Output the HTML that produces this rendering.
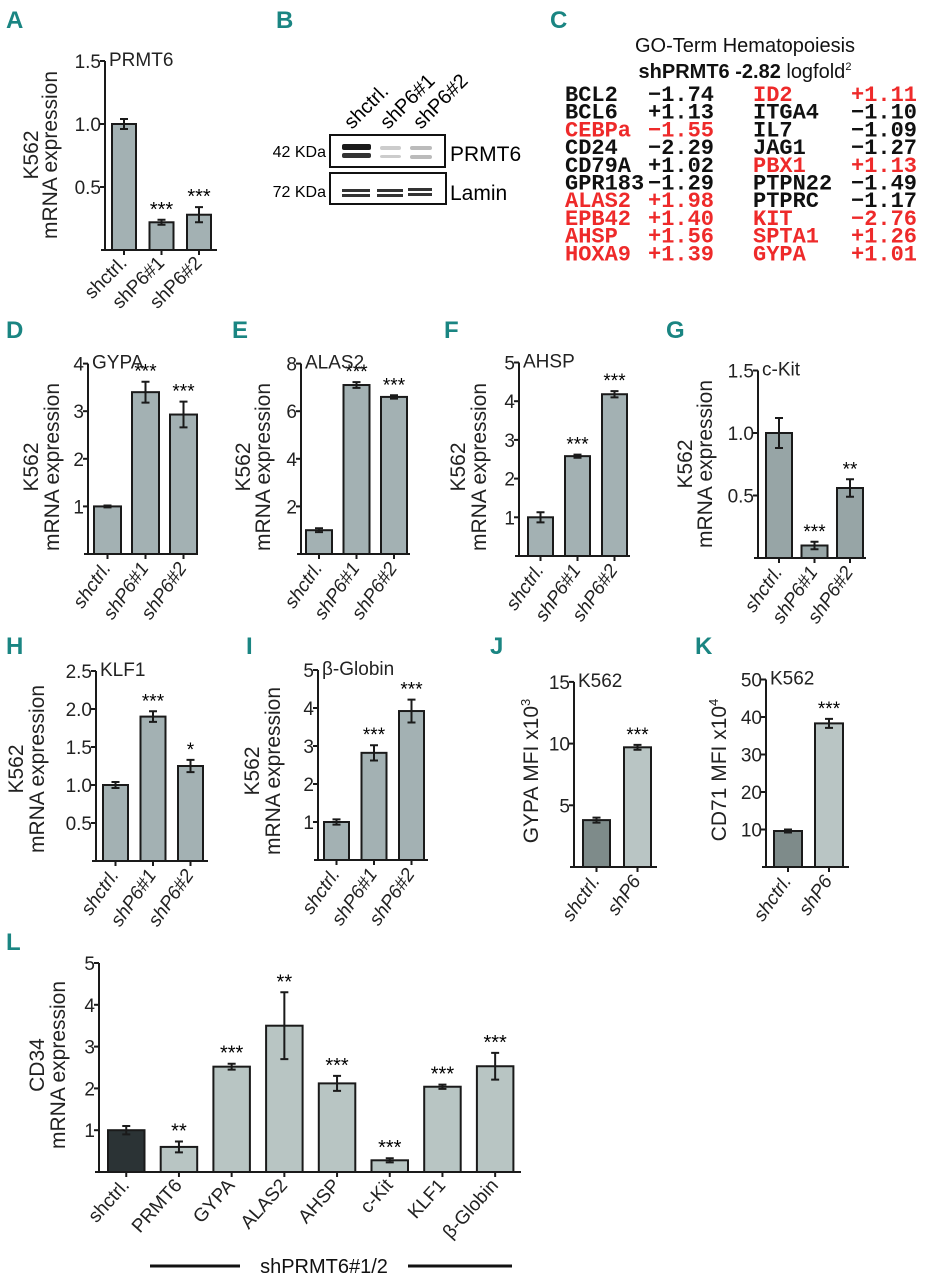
<!DOCTYPE html>
<html><head><meta charset="utf-8"><style>
html,body{margin:0;padding:0;background:#fff}
svg{display:block}
.pl{font-family:"Liberation Sans Narrow","Liberation Sans",sans-serif;font-weight:bold;fill:#1a8582;font-size:24px}
.tk{font-family:"Liberation Sans Narrow","Liberation Sans",sans-serif;font-size:19px;fill:#222}
.yl{font-family:"Liberation Sans",sans-serif;font-size:21px;fill:#222}
.gt{font-family:"Liberation Mono",monospace;font-weight:bold;font-size:22px}
</style></head><body>
<svg id="fig" width="931" height="1280" viewBox="0 0 931 1280" xmlns="http://www.w3.org/2000/svg">
<g>
<text class="pl" x="6" y="28">A</text><text class="pl" x="276" y="28">B</text><text class="pl" x="550" y="28">C</text>
<text class="pl" x="6" y="338">D</text><text class="pl" x="232" y="338">E</text><text class="pl" x="444" y="338">F</text><text class="pl" x="666" y="338">G</text>
<text class="pl" x="6" y="654">H</text><text class="pl" x="246" y="654">I</text><text class="pl" x="490" y="654">J</text><text class="pl" x="695" y="654">K</text>
<text class="pl" x="6" y="950">L</text>
</g>
<g font-family="Liberation Sans, sans-serif">
<text x="352" y="130" font-size="20" transform="rotate(-45 352 130)">shctrl.</text>
<text x="388" y="130" font-size="20" transform="rotate(-45 388 130)">shP6#1</text>
<text x="421" y="130" font-size="20" transform="rotate(-45 421 130)">shP6#2</text>
<rect x="330" y="135" width="115" height="32" fill="#fff" stroke="#111" stroke-width="2"/>
<rect x="330" y="173" width="116" height="31" fill="#fff" stroke="#111" stroke-width="2"/>
<rect x="342" y="144" width="29" height="6" fill="#1a1a1a" rx="2"/>
<rect x="342" y="153" width="29" height="5" fill="#333" rx="2"/>
<rect x="380" y="146" width="21" height="4" fill="#ccc" rx="2"/><rect x="380" y="155" width="21" height="3" fill="#ccc" rx="2"/>
<rect x="410" y="146" width="22" height="4" fill="#bbb" rx="2"/><rect x="410" y="155" width="22" height="4" fill="#bbb" rx="2"/>
<rect x="342" y="189" width="28" height="3" fill="#333"/><rect x="342" y="194" width="28" height="3" fill="#333"/>
<rect x="377" y="189" width="26" height="3" fill="#333"/><rect x="377" y="194" width="26" height="3" fill="#333"/>
<rect x="408" y="188" width="24" height="3" fill="#333"/><rect x="408" y="193" width="24" height="3" fill="#333"/>
<text x="326" y="157" font-size="16" text-anchor="end">42 KDa</text>
<text x="326" y="197" font-size="16" text-anchor="end">72 KDa</text>
<text x="450" y="161" font-size="21">PRMT6</text>
<text x="450" y="200" font-size="21">Lamin</text>
</g>
<g id="goterm">
<text x="745" y="52" text-anchor="middle" font-family="Liberation Sans, sans-serif" font-size="20" fill="#111">GO-Term Hematopoiesis</text>
<text x="745" y="78" text-anchor="middle" font-family="Liberation Sans, sans-serif" font-size="20" fill="#111"><tspan font-weight="bold">shPRMT6 -2.82</tspan> logfold<tspan font-size="11" dy="-8">2</tspan></text>
</g>
</svg>
<script>
const NS="http://www.w3.org/2000/svg";
const fig=document.getElementById('fig');
function mk(tag,attrs,parent,txt){const e=document.createElementNS(NS,tag);for(const k in attrs)e.setAttribute(k,attrs[k]);if(txt!==undefined)e.textContent=txt;(parent||fig).appendChild(e);return e;}

const goNames1=["BCL2","BCL6","CEBPa","CD24","CD79A","GPR183","ALAS2","EPB42","AHSP","HOXA9"];
const goVals1=["\u22121.74","+1.13","\u22121.55","\u22122.29","+1.02","\u22121.29","+1.98","+1.40","+1.56","+1.39"];
const goRed1=[0,0,1,0,0,0,1,1,1,1];
const goNames2=["ID2","ITGA4","IL7","JAG1","PBX1","PTPN22","PTPRC","KIT","SPTA1","GYPA"];
const goVals2=["+1.11","\u22121.10","\u22121.09","\u22121.27","+1.13","\u22121.49","\u22121.17","\u22122.76","+1.26","+1.01"];
const goRed2=[1,0,0,0,1,0,0,1,1,1];
const gt=document.getElementById('goterm');
for(let i=0;i<10;i++){
  const y=101+i*17.7;
  let t=mk('text',{class:'gt',x:565,y:y,fill:goRed1[i]?'#ee2a2a':'#111'},gt,goNames1[i]);
  
  
  t=mk('text',{class:'gt',x:648,y:y,fill:goRed1[i]?'#ee2a2a':'#111'},gt,goVals1[i]);
  
  
  t=mk('text',{class:'gt',x:753,y:y,fill:goRed2[i]?'#ee2a2a':'#111'},gt,goNames2[i]);
  
  
  t=mk('text',{class:'gt',x:851,y:y,fill:goRed2[i]?'#ee2a2a':'#111'},gt,goVals2[i]);
  
  
}

const catsShort=["shctrl.","shP6#1","shP6#2"];
const catsJK=["shctrl.","shP6"];
const catsL=["shctrl.","PRMT6","GYPA","ALAS2","AHSP","c-Kit","KLF1","\u03b2-Globin"];
const valsA=[1.0,0.22,0.28], errA=[0.04,0.02,0.06], starsA=["","***","***"];
const ticksA=[0.5,1.0,1.5], tickLabA=["0.5","1.0","1.5"];
const valsD=[1.0,3.4,2.93], errD=[0.02,0.22,0.27], starsD=["","***","***"];
const ticksD=[1,2,3,4], tickLabD=["1","2","3","4"];
const valsE=[1.0,7.1,6.6], errE=[0.08,0.12,0.07], starsE=["","***","***"];
const ticksE=[2,4,6,8], tickLabE=["2","4","6","8"];
const valsF=[1.0,2.58,4.18], errF=[0.13,0.04,0.08], starsF=["","***","***"];
const ticksF=[1,2,3,4,5], tickLabF=["1","2","3","4","5"];
const valsG=[1.0,0.1,0.56], errG=[0.12,0.03,0.07], starsG=["","***","**"];
const ticksG=[0.5,1.0,1.5], tickLabG=["0.5","1.0","1.5"];
const valsH=[1.0,1.9,1.25], errH=[0.04,0.07,0.08], starsH=["","***","*"];
const ticksH=[0.5,1.0,1.5,2.0,2.5], tickLabH=["0.5","1.0","1.5","2.0","2.5"];
const valsI=[1.0,2.82,3.92], errI=[0.07,0.2,0.3], starsI=["","***","***"];
const ticksI=[1,2,3,4,5], tickLabI=["1","2","3","4","5"];
const valsJ=[3.8,9.7], errJ=[0.2,0.2], starsJ=["","***"];
const ticksJ=[5,10,15], tickLabJ=["5","10","15"];
const valsK=[9.6,38.3], errK=[0.4,1.2], starsK=["","***"];
const ticksK=[10,20,30,40,50], tickLabK=["10","20","30","40","50"];
const valsL=[1.0,0.6,2.52,3.5,2.12,0.28,2.04,2.53], errL=[0.1,0.13,0.07,0.8,0.18,0.05,0.05,0.32];
const starsL=["","**","***","**","***","***","***","***"];
const ticksL=[1,2,3,4,5], tickLabL=["1","2","3","4","5"];

function chart(c){
  const g=mk('g',{});
  
  
  const y=v=>c.y0-v*c.ppu;
  const top=y(c.ticks[c.ticks.length-1]);
  const bx=i=>c.bs+i*c.step;
  c.vals.forEach((v,i)=>{
    const r=mk('rect',{x:bx(i),y:y(v),width:c.bw,height:c.y0-y(v),fill:c.colors[Math.min(i,c.colors.length-1)],stroke:'#1a1a1a','stroke-width':2},g);
    
    
    const cx=bx(i)+c.bw/2, e=c.err[i];
    const eb=mk('path',{d:`M${cx},${y(v+e)}V${y(v-e)}M${cx-4},${y(v+e)}H${cx+4}M${cx-4},${y(v-e)}H${cx+4}`,stroke:'#1a1a1a','stroke-width':2,fill:'none'},g);
    
    
    if(c.stars[i]){
      const s=mk('text',{x:cx,y:y(v+e)+c.sy,'text-anchor':'middle','font-family':'Liberation Sans, sans-serif','font-size':c.sf},g,c.stars[i]);
      
      
    }
    const lab=mk('text',{class:'tk',x:cx+4,y:c.y0+14,'text-anchor':'end','font-size':c.xf,'font-style':c.xi?'italic':'normal',transform:`rotate(-${c.rot} ${cx+4} ${c.y0+14})`},g,c.cats[i]);
    
    
    mk('line',{x1:cx,x2:cx,y1:c.y0,y2:c.y0+5,stroke:'#1a1a1a','stroke-width':2},g);
  });
  const ax=mk('path',{d:`M${c.ax},${top}V${c.y0}M${c.ax-4},${c.y0}H${c.end}`,stroke:'#1a1a1a','stroke-width':2,fill:'none'},g);
  
  
  c.ticks.forEach((t,i)=>{
    mk('line',{x1:c.ax-5,x2:c.ax,y1:y(t),y2:y(t),stroke:'#1a1a1a','stroke-width':2},g);
    const tl=mk('text',{class:'tk',x:c.ax-4,y:y(t)+7,'text-anchor':'end','font-size':c.tf},g,c.tl[i]);
    
    
  });
  const tt=mk('text',{class:'tk',x:c.ax+4,y:top+5,'font-size':c.tf+1},g,c.title);
  
  
  c.ylab.forEach((l,i)=>{
    const [lx,ly,txt]=l;
    const yt=mk('text',{class:'yl',x:lx,y:ly,'text-anchor':'middle',transform:`rotate(-90 ${lx} ${ly})`},g);
    yt.innerHTML=txt;
    
    
  });
}
const G1='#a3b1b3';
chart({name:'chart-a-prmt6',cats:catsShort,vals:valsA,err:errA,stars:starsA,ticks:ticksA,tl:tickLabA,title:'PRMT6',
 ax:105,y0:250,ppu:126,bs:112,bw:24,step:37.5,end:217,colors:[G1],tf:21,xf:19,xi:false,rot:45,sy:-4,sf:20,
 ylab:[[38,155,'K562'],[57,155,'mRNA expression']]});
chart({name:'chart-d-gypa',cats:catsShort,vals:valsD,err:errD,stars:starsD,ticks:ticksD,tl:tickLabD,title:'GYPA',
 ax:88,y0:554,ppu:47.6,bs:94,bw:27,step:38,end:197,colors:[G1],tf:20,xf:18,xi:true,rot:55,sy:-4,sf:19,
 ylab:[[38,467,'K562'],[59,467,'mRNA expression']]});
chart({name:'chart-e-alas2',cats:catsShort,vals:valsE,err:errE,stars:starsE,ticks:ticksE,tl:tickLabE,title:'ALAS2',
 ax:301,y0:554,ppu:23.8,bs:306,bw:26,step:37.5,end:410,colors:[G1],tf:20,xf:18,xi:true,rot:55,sy:-4,sf:19,
 ylab:[[250,467,'K562'],[270,467,'mRNA expression']]});
chart({name:'chart-f-ahsp',cats:catsShort,vals:valsF,err:errF,stars:starsF,ticks:ticksF,tl:tickLabF,title:'AHSP',
 ax:519,y0:556,ppu:38.7,bs:528,bw:25,step:37,end:630,colors:[G1],tf:20,xf:18,xi:true,rot:55,sy:-4,sf:19,
 ylab:[[465,467,'K562'],[486,467,'mRNA expression']]});
chart({name:'chart-g-ckit',cats:catsShort,vals:valsG,err:errG,stars:starsG,ticks:ticksG,tl:tickLabG,title:'c-Kit',
 ax:758,y0:558,ppu:125,bs:766,bw:26,step:35.5,end:866,colors:['#97a5a6'],tf:20,xf:18,xi:true,rot:55,sy:-4,sf:19,
 ylab:[[692,464,'K562'],[712,464,'mRNA expression']]});
chart({name:'chart-h-klf1',cats:catsShort,vals:valsH,err:errH,stars:starsH,ticks:ticksH,tl:tickLabH,title:'KLF1',
 ax:96,y0:861,ppu:76,bs:103,bw:25,step:37.5,end:208,colors:[G1],tf:20,xf:18,xi:true,rot:55,sy:-4,sf:19,
 ylab:[[23,769,'K562'],[44,769,'mRNA expression']]});
chart({name:'chart-i-beta-globin',cats:catsShort,vals:valsI,err:errI,stars:starsI,ticks:ticksI,tl:tickLabI,title:'\u03b2-Globin',
 ax:318,y0:860,ppu:38,bs:324,bw:25,step:37.5,end:428,colors:[G1],tf:20,xf:18,xi:true,rot:55,sy:-4,sf:19,
 ylab:[[259,771,'K562'],[280,771,'mRNA expression']]});
chart({name:'chart-j-gypa-mfi',cats:catsJK,vals:valsJ,err:errJ,stars:starsJ,ticks:ticksJ,tl:tickLabJ,title:'K562',
 ax:574,y0:867,ppu:12.34,bs:583,bw:27,step:41,end:657,colors:['#7e8b8a','#b9c5c4'],tf:20,xf:18,xi:true,rot:55,sy:-4,sf:19,
 ylab:[[538,771,'GYPA  MFI x10<tspan font-size="13" dy="-8">3</tspan>']]});
chart({name:'chart-k-cd71-mfi',cats:catsJK,vals:valsK,err:errK,stars:starsK,ticks:ticksK,tl:tickLabK,title:'K562',
 ax:766,y0:867,ppu:3.75,bs:774,bw:28,step:41,end:849,colors:['#7e8b8a','#b9c5c4'],tf:20,xf:18,xi:true,rot:55,sy:-4,sf:19,
 ylab:[[726,770,'CD71  MFI x10<tspan font-size="13" dy="-8">4</tspan>']]});
chart({name:'chart-l-cd34',cats:catsL,vals:valsL,err:errL,stars:starsL,ticks:ticksL,tl:tickLabL,title:'',
 ax:99,y0:1172,ppu:41.8,bs:108,bw:36.5,step:52.7,end:521,colors:['#2b3335','#b8c5c3'],tf:21,xf:19,xi:false,rot:48,sy:-4,sf:20,
 ylab:[[44,1065,'CD34'],[65,1065,'mRNA expression']]});
</script>
<svg style="position:absolute;left:0;top:0" width="931" height="1280">
<line x1="150" y1="1266" x2="240" y2="1266" stroke="#111" stroke-width="3"/>
<line x1="408" y1="1266" x2="512" y2="1266" stroke="#111" stroke-width="3"/>
<text x="324" y="1273" text-anchor="middle" font-family="Liberation Sans, sans-serif" font-size="20" fill="#111">shPRMT6#1/2</text>
</svg>
</body></html>
